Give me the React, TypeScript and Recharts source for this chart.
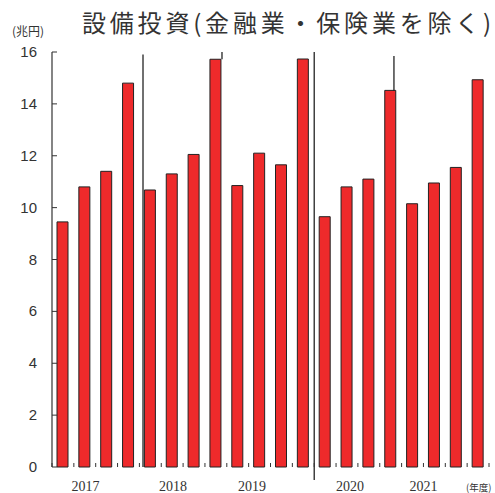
import { BarChart, Bar, XAxis, YAxis, ReferenceLine } from "recharts";

// 四半期ごとの設備投資額（兆円）
const quarters = [
  "2017Q1", "2017Q2", "2017Q3", "2017Q4",
  "2018Q1", "2018Q2", "2018Q3", "2018Q4",
  "2019Q1", "2019Q2", "2019Q3", "2019Q4",
  "2020Q1", "2020Q2", "2020Q3", "2020Q4",
  "2021Q1", "2021Q2", "2021Q3", "2021Q4",
];
const investment = [
  9.45, 10.8, 11.4, 14.8,
  10.68, 11.3, 12.05, 15.72,
  10.85, 12.1, 11.65, 15.73,
  9.65, 10.8, 11.1, 14.52,
  10.15, 10.95, 11.55, 14.93,
];
const yTicks = [0, 2, 4, 6, 8, 10, 12, 14, 16];
const yearLabels = ["2017", "2018", "2019", "2020", "2021"];
const yearLabelPos = [1.53, 5.54, 9.15, 13.64, 17.0];
const quarterEdges = Array.from({ length: 21 }, (_, i) => i);

// 区切り線（数値軸上の位置と上下端）
const separators = [
  { x: 4.165, y1: 15.9, y2: 0 },
  { x: 7.78, y1: 16, y2: 15.72 },
  { x: 12.0, y1: 16, y2: -0.5 },
  { x: 15.65, y1: 15.85, y2: 14.52 },
];

const data = quarters.map((q, i) => ({ q, value: investment[i] }));

const INK = "#333";
const W = 495;
const H = 493;
const AXIS_H = 26;
const PLOT_BOTTOM = H - AXIS_H;

export default function App() {
  return (
    <div style={{ position: "absolute", left: 0, top: 0, width: W, height: H, background: "#fff" }}>
      <div
        style={{
          position: "absolute",
          left: 82,
          top: 6,
          fontFamily: "'Noto Sans CJK JP', sans-serif",
          fontSize: 24,
          letterSpacing: 3.8,
          color: INK,
          whiteSpace: "nowrap",
          lineHeight: "32px",
        }}
      >
        設備投資(金融業・保険業を除く)
      </div>
      <div
        style={{
          position: "absolute",
          left: 12,
          top: 22,
          fontFamily: "'Noto Sans CJK JP', sans-serif",
          fontSize: 12,
          color: INK,
          whiteSpace: "nowrap",
        }}
      >
        (兆円)
      </div>
      <div
        style={{
          position: "absolute",
          left: 466,
          top: 480,
          fontFamily: "'Noto Sans CJK JP', sans-serif",
          fontSize: 9.5,
          color: INK,
          whiteSpace: "nowrap",
        }}
      >
        (年度)
      </div>
      <BarChart
        width={W}
        height={H}
        data={data}
        margin={{ top: 52, right: 6, bottom: 0, left: 0 }}
        barSize={11}
        style={{ position: "absolute", left: 0, top: 0 }}
      >
        <XAxis dataKey="q" xAxisId="cat" hide />
        <XAxis
          xAxisId="num"
          type="number"
          dataKey="value"
          scale="linear"
          domain={[0, 20]}
          allowDataOverflow
          ticks={quarterEdges}
          interval={0}
          height={1}
          tickSize={0}
          tickMargin={0}
          tickLine={false}
          axisLine={{ stroke: INK, strokeWidth: 1.2 }}
          tick={(p: any) => (
            <line x1={p.x} x2={p.x} y1={PLOT_BOTTOM} y2={PLOT_BOTTOM - 4} stroke={INK} strokeWidth={1} />
          )}
        />
        <XAxis
          xAxisId="year"
          type="number"
          dataKey="value"
          scale="linear"
          domain={[0, 20]}
          allowDataOverflow
          ticks={yearLabelPos}
          interval={0}
          height={AXIS_H - 1}
          tickSize={0}
          tickMargin={0}
          tickLine={false}
          axisLine={false}
          tick={(p: any) => (
            <text
              x={p.x}
              y={PLOT_BOTTOM + 24}
              textAnchor="middle"
              fontFamily="'Liberation Serif', serif"
              fontSize={14}
              fill={INK}
            >
              {yearLabels[p.index]}
            </text>
          )}
        />
        <YAxis
          domain={[0, 16]}
          ticks={yTicks}
          width={52}
          tickSize={0}
          tickMargin={0}
          tickLine={false}
          axisLine={{ stroke: INK, strokeWidth: 1.2 }}
          tick={(p: any) => (
            <g>
              <line x1={p.x} x2={p.x + 5} y1={p.y} y2={p.y} stroke={INK} strokeWidth={1} />
              <text
                x={p.x - 15}
                y={p.y + 5}
                textAnchor="end"
                fontFamily="'Liberation Sans', Arial, sans-serif"
                fontSize={15}
                fill={INK}
              >
                {p.payload.value}
              </text>
            </g>
          )}
        />
        {separators.map((s, i) => (
          <ReferenceLine
            key={i}
            xAxisId="num"
            segment={[{ x: s.x, y: s.y1 }, { x: s.x, y: s.y2 }]}
            stroke="#111"
            strokeWidth={1.2}
            ifOverflow="visible"
          />
        ))}
        <Bar
          xAxisId="cat"
          dataKey="value"
          fill="#EE2A2B"
          stroke="#222"
          strokeWidth={1}
          isAnimationActive={false}
        />
      </BarChart>
    </div>
  );
}
